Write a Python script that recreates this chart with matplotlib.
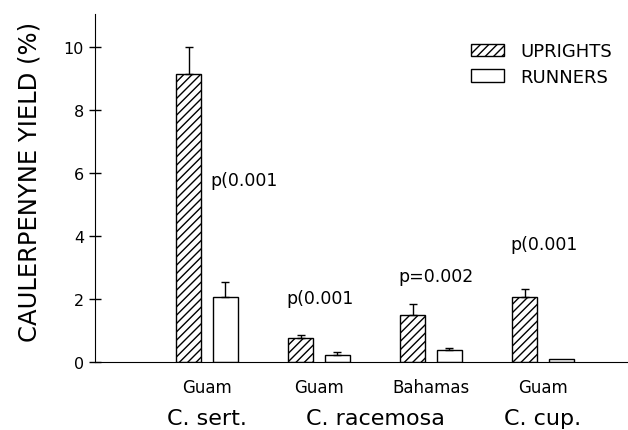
import matplotlib
matplotlib.use("Agg")
import matplotlib.pyplot as plt
import numpy as np

sites = ["Guam", "Guam", "Bahamas", "Guam"]
species = ["C. sert.", "C. racemosa", "C. cup."]
species_groups = [[0], [1, 2], [3]]
uprights = [9.15, 0.77, 1.50, 2.07]
uprights_err = [0.85, 0.10, 0.35, 0.25]
runners = [2.07, 0.23, 0.39, 0.10]
runners_err = [0.47, 0.10, 0.06, 0.0]
pvals = ["p(0.001", "p(0.001", "p=0.002", "p(0.001"]
pval_y = [5.78, 2.03, 2.73, 3.75]
pval_dx = [0.03, -0.29, -0.29, -0.29]

plt.rcParams['font.family'] = ['DejaVu Sans']
fig = plt.figure(figsize=(6.28, 4.31), dpi=100)
ax = fig.add_axes([95/628, (431-363)/431, 1 - 95/628, (363-15)/431])

x = np.arange(1, len(sites) + 1)
w = 0.223
off = 0.165
ax.bar(x - off, uprights, w, color='white', edgecolor='black', hatch='////', linewidth=1.0, label='UPRIGHTS')
ax.bar(x + off, runners, w, color='white', edgecolor='black', linewidth=1.0, label='RUNNERS')
ax.errorbar(x - off, uprights, yerr=[np.zeros(4), uprights_err], fmt='none', ecolor='black', elinewidth=1.0, capsize=3)
re = np.array(runners_err)
mask = re > 0
ax.errorbar((x + off)[mask], np.array(runners)[mask], yerr=[np.zeros(mask.sum()), re[mask]], fmt='none', ecolor='black', elinewidth=1.0, capsize=3)

for xi, p, py, dx in zip(x, pvals, pval_y, pval_dx):
    ax.text(xi + dx, py, p, fontsize=12.5, ha='left', va='center')

ax.set_xlim(0, 533/112)
ax.set_ylim(0, 11.05)
ax.set_yticks([0, 2, 4, 6, 8, 10])
ax.tick_params(axis='y', direction='inout', length=8, width=1, labelsize=11.5, pad=4)
ax.set_xticks([])
ax.spines['top'].set_visible(False)
ax.spines['right'].set_visible(False)
ax.set_ylabel("CAULERPENYNE YIELD (%)", fontsize=17.5)
ax.yaxis.set_label_coords(-0.101, 0.52)

for xi, s in zip(x, sites):
    ax.text(xi, -0.78, s, fontsize=12, ha='center', va='center')
for grp, sp in zip(species_groups, species):
    cx = np.mean([x[i] for i in grp])
    ax.text(cx, -1.78, sp, fontsize=16, ha='center', va='center')

leg = ax.legend(loc='upper right', bbox_to_anchor=(1.0, 0.965), frameon=False, fontsize=13,
                handlelength=1.8, handleheight=0.7, handletextpad=0.9, labelspacing=0.4)
for t in ax.texts:
    t.set_clip_on(False)

fig.savefig("out.png", dpi=100)
